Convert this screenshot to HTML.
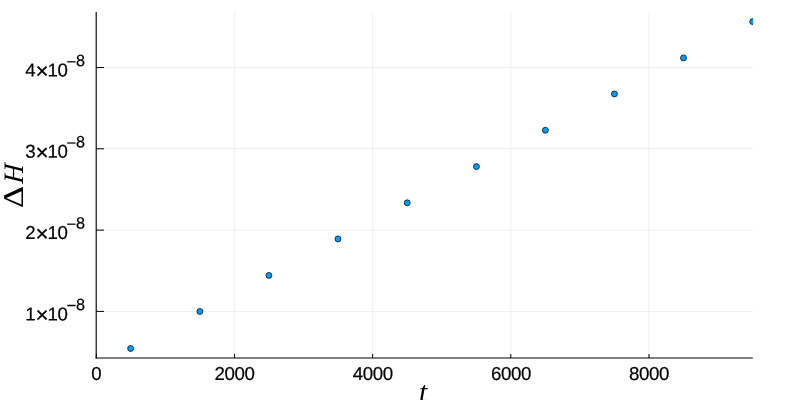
<!DOCTYPE html>
<html><head><meta charset="utf-8"><title>plot</title>
<style>
html,body{margin:0;padding:0;background:#fff;}
body{width:800px;height:400px;overflow:hidden;}
svg{display:block;will-change:transform;}
text{font-family:"Liberation Sans",sans-serif;fill:#000;text-rendering:geometricPrecision;}
.m{font-family:"Liberation Serif",serif;}
.xt{font-size:18.7px;text-anchor:middle;letter-spacing:-0.4px;stroke:#000;stroke-width:0.2px;}
.yt{font-size:18.7px;stroke:#000;stroke-width:0.2px;}
</style></head><body>
<svg width="800" height="400" viewBox="0 0 800 400">
<rect width="800" height="400" fill="#fff"/>
<defs><clipPath id="c"><rect x="96.33" y="12.00" width="656.67" height="346.00"/></clipPath></defs>

<g stroke="#000" stroke-opacity="0.1" stroke-width="0.65" fill="none">
<line x1="234.49" y1="12.00" x2="234.49" y2="358.00"/>
<line x1="372.65" y1="12.00" x2="372.65" y2="358.00"/>
<line x1="510.81" y1="12.00" x2="510.81" y2="358.00"/>
<line x1="648.97" y1="12.00" x2="648.97" y2="358.00"/>
<line x1="96.33" y1="311.40" x2="752.80" y2="311.40"/>
<line x1="96.33" y1="230.10" x2="752.80" y2="230.10"/>
<line x1="96.33" y1="148.80" x2="752.80" y2="148.80"/>
<line x1="96.33" y1="67.50" x2="752.80" y2="67.50"/>
</g>
<g stroke="#000" stroke-width="1" fill="none">
<line stroke-width="1.15" x1="95.65" y1="358.00" x2="752.80" y2="358.00"/>
<line stroke-width="1.15" x1="96.20" y1="12.00" x2="96.20" y2="358.55"/>
<line x1="96.33" y1="358.00" x2="96.33" y2="354.00"/>
<line x1="234.49" y1="358.00" x2="234.49" y2="354.00"/>
<line x1="372.65" y1="358.00" x2="372.65" y2="354.00"/>
<line x1="510.81" y1="358.00" x2="510.81" y2="354.00"/>
<line x1="648.97" y1="358.00" x2="648.97" y2="354.00"/>
<line x1="96.20" y1="311.40" x2="104.00" y2="311.40"/>
<line x1="96.20" y1="230.10" x2="104.00" y2="230.10"/>
<line x1="96.20" y1="148.80" x2="104.00" y2="148.80"/>
<line x1="96.20" y1="67.50" x2="104.00" y2="67.50"/>
</g>
<g clip-path="url(#c)" fill="#009af9" stroke="#000" stroke-width="0.7">
<circle cx="130.62" cy="348.50" r="3"/>
<circle cx="199.90" cy="311.50" r="3"/>
<circle cx="268.93" cy="275.45" r="3"/>
<circle cx="338.01" cy="238.95" r="3"/>
<circle cx="407.24" cy="202.80" r="3"/>
<circle cx="476.42" cy="166.60" r="3"/>
<circle cx="545.40" cy="130.25" r="3"/>
<circle cx="614.43" cy="93.95" r="3"/>
<circle cx="683.51" cy="57.90" r="3"/>
<circle cx="752.69" cy="21.60" r="3"/>
</g>
<text class="xt" transform="rotate(0.03 96.33 380.1)" x="96.33" y="380.1">0</text>
<text class="xt" transform="rotate(0.03 234.59 380.1)" x="234.59" y="380.1">2000</text>
<text class="xt" transform="rotate(0.03 372.75 380.1)" x="372.75" y="380.1">4000</text>
<text class="xt" transform="rotate(0.03 510.91 380.1)" x="510.91" y="380.1">6000</text>
<text class="xt" transform="rotate(0.03 649.07 380.1)" x="649.07" y="380.1">8000</text>
<text class="yt" transform="rotate(0.03 55 320.40)"><tspan x="25.25" y="320.40">1</tspan><tspan x="35.4" y="322.50" font-size="22.5">×</tspan><tspan x="47.6" y="320.40" letter-spacing="-0.6">10</tspan><tspan x="66.5" y="311.10" font-size="16.6">−</tspan><tspan x="76.05" y="309.90" font-size="16.2">8</tspan></text>
<text class="yt" transform="rotate(0.03 55 239.10)"><tspan x="25.25" y="239.10">2</tspan><tspan x="35.4" y="241.20" font-size="22.5">×</tspan><tspan x="47.6" y="239.10" letter-spacing="-0.6">10</tspan><tspan x="66.5" y="229.80" font-size="16.6">−</tspan><tspan x="76.05" y="228.60" font-size="16.2">8</tspan></text>
<text class="yt" transform="rotate(0.03 55 157.80)"><tspan x="25.25" y="157.80">3</tspan><tspan x="35.4" y="159.90" font-size="22.5">×</tspan><tspan x="47.6" y="157.80" letter-spacing="-0.6">10</tspan><tspan x="66.5" y="148.50" font-size="16.6">−</tspan><tspan x="76.05" y="147.30" font-size="16.2">8</tspan></text>
<text class="yt" transform="rotate(0.03 55 76.50)"><tspan x="25.25" y="76.50">4</tspan><tspan x="35.4" y="78.60" font-size="22.5">×</tspan><tspan x="47.6" y="76.50" letter-spacing="-0.6">10</tspan><tspan x="66.5" y="67.20" font-size="16.6">−</tspan><tspan x="76.05" y="66.00" font-size="16.2">8</tspan></text>
<text class="m" transform="rotate(0.03 424 401.4)" x="418.9" y="401.4" font-size="29.5" font-style="italic">t</text>
<g transform="translate(23.2,206.55) rotate(-90)" font-size="28.7"><text class="m" transform="translate(-1.45,0) scale(1.19,1)" x="0" y="0">Δ</text><text class="m" transform="translate(22.5,0.2) skewX(-5) scale(0.93,0.98)" x="0" y="0" font-style="italic">H</text></g>
</svg></body></html>
